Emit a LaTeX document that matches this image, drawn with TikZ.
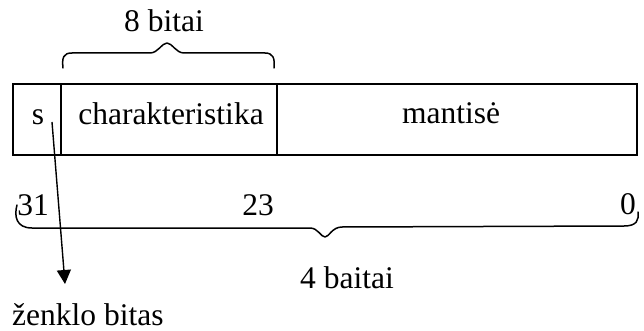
\documentclass[tikz,border=0pt]{standalone}
\usepackage{fontspec}
\setmainfont{Liberation Serif}
\newfontfamily\tnrfont{Liberation Serif}
\usetikzlibrary{arrows.meta}
\begin{document}
\begin{tikzpicture}[x=1pt,y=-1pt,
  lbl/.style={inner sep=0pt,anchor=base,font=\tnrfont\fontsize{31.5}{36}\selectfont},
  ln/.style={line width=1.6pt},
  brc/.style={line width=1.5pt,line cap=round,line join=round}]
\useasboundingbox (0,0) rectangle (644,331);
% box
\node[draw,ln,minimum width=48pt,minimum height=71pt,anchor=north west,inner sep=0pt] (s) at (12,83) {};
\node[draw,ln,minimum width=216pt,minimum height=71pt,anchor=north west,inner sep=0pt] (ch) at (60,83) {};
\node[draw,ln,minimum width=360pt,minimum height=71pt,anchor=north west,inner sep=0pt] (ma) at (276,83) {};
\node[lbl] (stxt) at (38,125) {s};
\node[lbl] (chtxt) at (171,125) {charakteristika};
\node[lbl] (matxt) at (451,124) {mantisė};
% top brace
\node[lbl] (b8) at (164,32) {8 bitai};
\draw[brc] (63,68) .. controls (62,58) and (63,53) .. (72,53)
  -- (150,53) .. controls (158,53) and (162,43) .. (167,43)
  .. controls (172,43) and (176,53) .. (184,53)
  -- (265,53) .. controls (273,53) and (275,58) .. (274,68);
% bit numbers
\node[lbl] (n31) at (33,215) {31};
\node[lbl] (n23) at (258,215) {23};
\node[lbl] (n0) at (628,214) {0};
% bottom brace
\draw[brc] (17,205) .. controls (14,216) and (16,228) .. (32,228)
  -- (310,228) .. controls (318,228) and (321,237) .. (325,237)
  .. controls (329,237) and (332,227) .. (342,227)
  -- (624,226) .. controls (637,226) and (639,220) .. (638,212);
\node[lbl] (b4) at (347,288) {4 baitai};
% sign bit arrow
\node[lbl,anchor=base west] (zb) at (12,325) {ženklo bitas};
\coordinate (sa) at (52,122);
\coordinate (se) at (65,284);
\draw[line width=1.4pt,-{Triangle[length=14pt,width=14pt]}] (sa) -- (se);
\end{tikzpicture}
\end{document}
